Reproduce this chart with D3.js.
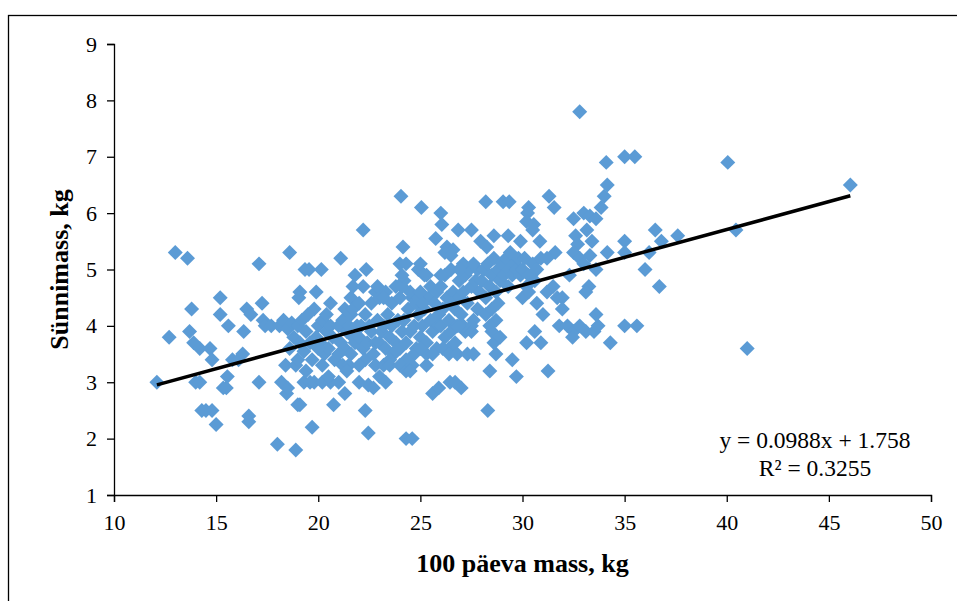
<!DOCTYPE html>
<html lang="et">
<head>
<meta charset="UTF-8">
<title>Sünnimass vs 100 päeva mass</title>
<script src="https://d3js.org/d3.v7.min.js"></script>
<style>
  body { margin: 0; background: #fff; }
  svg { font-family: "Liberation Serif", "Times New Roman", serif; }
  .tick line, .domain { stroke: #000; stroke-width: 1.3px; }
</style>
</head>
<body>
<svg></svg>
<script>
// 100 päeva mass (kg), sünnimass (kg)
const points = [
  // left sparse part
  [12.1,3.0],[12.7,3.8],[13.0,5.3],[13.6,5.2],[13.8,4.3],[13.7,3.9],[13.9,3.7],[14.0,3.0],[14.2,3.0],[14.2,3.6],
  [14.3,2.5],[14.5,2.5],[14.7,3.6],[14.8,2.5],[14.8,3.4],[15.0,2.25],[15.2,4.5],[15.2,4.2],[15.35,2.9],[15.5,2.9],
  [15.55,3.1],[15.6,4.0],[15.8,3.4],[16.1,3.4],[16.35,3.9],[16.3,3.5],[16.5,4.3],[16.7,4.2],[16.6,2.4],[16.6,2.3],
  [17.1,5.1],[17.1,3.0],[17.25,4.4],[17.3,4.1],[17.4,4.0],[17.7,4.0],[18.0,1.9],[18.2,3.0],[18.45,2.8],[18.6,5.3],
  [18.9,1.8],[19.0,2.6],[19.1,4.6],[19.05,4.5],[19.35,5.0],[19.55,5.0],[19.7,2.2],[19.9,4.6],[20.15,5.0],[19.8,4.3],
  [21.1,5.2],[22.35,5.0],[22.2,5.7],
  // x 18-19
  [18.1,4.0],[18.3,4.1],[18.5,3.95],[18.7,4.05],[18.8,3.8],[18.6,3.6],[18.4,3.3],[18.9,3.3],[18.5,2.9],
  [19.0,4.0],[19.2,4.1],[19.4,3.9],[19.1,3.7],[19.3,3.55],[19.6,3.7],[19.5,4.2],[19.0,3.4],[19.3,3.0],[19.6,3.0],
  [19.4,3.2],[19.7,3.4],
  // x 20
  [20.0,4.0],[20.2,4.1],[20.4,3.9],[20.1,3.7],[20.3,3.5],[20.5,3.6],[20.6,4.0],[20.7,3.8],[20.2,3.3],[20.4,4.2],
  [20.8,3.4],[20.0,3.6],[19.9,3.8],[20.6,4.4],
  // x 21
  [21.0,4.0],[21.2,4.1],[21.1,3.7],[21.3,3.6],[21.4,3.9],[21.5,4.0],[21.6,3.5],[21.7,3.8],[21.0,3.5],[21.2,3.3],
  [21.5,3.3],[21.8,3.7],[21.9,4.0],[21.3,4.3],[21.6,4.2],[21.6,4.5],[21.7,4.7],[21.8,4.9],[21.7,4.3],
  // x 22
  [22.0,3.8],[22.1,4.0],[22.2,3.6],[22.3,3.4],[22.4,3.7],[22.5,4.0],[22.6,3.9],[22.7,3.5],[22.8,3.7],[22.9,4.1],
  [22.3,4.2],[22.6,4.4],[22.0,3.3],[22.8,3.3],[22.2,4.7],[22.0,4.4],[22.8,4.6],[22.9,4.7],
  // x 23
  [23.0,3.7],[23.1,3.9],[23.2,4.0],[23.3,3.6],[23.4,4.2],[23.5,3.8],[23.6,4.0],[23.7,3.5],[23.8,3.7],[23.9,4.1],
  [23.0,4.5],[23.3,4.6],[23.6,4.4],[23.8,4.7],[23.2,3.3],[23.9,3.6],[23.5,3.4],[23.2,4.5],
  // x 24
  [24.0,3.6],[24.1,3.9],[24.2,4.1],[24.3,3.7],[24.4,4.3],[24.5,3.9],[24.6,4.5],[24.7,4.0],[24.8,3.6],[24.9,4.2],
  [24.0,4.5],[24.2,4.8],[24.5,4.6],[24.8,4.4],[24.3,3.4],[24.7,3.5],[24.1,4.7],[24.9,4.5],[24.1,4.9],
  // x 25
  [25.0,3.8],[25.1,4.0],[25.2,4.3],[25.3,3.7],[25.4,4.5],[25.5,4.1],[25.6,3.9],[25.7,4.4],[25.8,3.6],[25.9,4.2],
  [25.0,4.6],[25.2,4.9],[25.5,4.7],[25.8,4.6],[25.3,3.5],[25.6,3.5],[25.1,4.4],[25.9,4.0],[25.0,3.6],
  // x 26
  [26.0,4.0],[26.1,4.3],[26.2,3.8],[26.3,4.5],[26.4,4.1],[26.5,3.9],[26.6,4.6],[26.7,4.3],[26.8,4.0],[26.9,4.8],
  [26.0,4.7],[26.2,4.9],[26.4,3.6],[26.7,3.7],[26.9,4.5],[26.1,3.6],[26.5,4.4],[26.0,4.9],
  // x 27
  [27.0,4.2],[27.1,4.6],[27.2,4.9],[27.3,4.4],[27.4,5.0],[27.5,4.7],[27.6,4.1],[27.7,4.8],[27.8,5.0],[27.9,4.6],
  [27.2,3.9],[27.5,3.9],[27.8,4.3],[27.1,5.1],[27.6,5.1],
  // x 28
  [28.0,4.8],[28.1,5.0],[28.2,4.5],[28.3,5.1],[28.4,4.7],[28.5,4.9],[28.6,5.2],[28.7,4.6],[28.8,5.0],[28.9,4.8],
  [28.2,4.2],[28.5,4.3],[28.8,4.4],
  // x 29-30
  [29.0,5.1],[29.1,4.9],[29.2,5.2],[29.3,5.0],[29.4,5.3],[29.5,4.9],[29.6,5.1],[29.7,5.0],[29.8,5.2],[29.9,4.9],
  [29.3,4.7],[30.0,5.0],[30.1,5.2],[30.3,4.9],[30.5,5.1],[30.7,5.0],[30.9,5.2],[30.2,4.7],[30.6,4.8],
  // lower band
  [19.8,3.0],[20.2,3.0],[20.6,3.0],[21.0,3.0],[20.5,3.1],[20.75,2.6],[21.3,2.8],[21.4,3.2],[22.0,3.0],[22.3,2.5],
  [22.45,2.1],[22.45,2.95],[22.7,2.9],[23.0,3.1],[23.3,3.0],[23.5,3.3],[24.0,3.3],[24.3,3.2],[24.6,3.3],[24.3,2.0],
  [24.6,2.0],[19.1,2.6],[24.5,3.2],[25.3,3.3],
  // upper middle
  [24.05,6.3],[25.05,6.1],[26.0,6.0],[26.05,5.8],[26.85,5.7],[27.5,5.7],[25.75,5.55],[26.3,5.4],[26.6,5.35],[26.2,5.3],
  [26.5,5.25],[24.15,5.4],[24.0,5.1],[24.3,5.1],[24.9,5.0],[25.0,5.1],[25.3,4.9],[26.5,5.0],[26.9,5.0],[28.2,6.2],
  [29.05,6.2],[29.35,6.2],[28.6,5.6],[29.3,5.6],[27.95,5.5],[28.25,5.4],[29.9,5.5],
  // right part
  [30.3,6.1],[30.25,6.0],[30.2,5.85],[30.55,5.8],[30.5,5.7],[31.3,6.3],[31.55,6.1],[30.85,5.5],[31.6,5.3],[31.2,5.2],
  [32.5,5.9],[32.6,5.6],[32.7,5.45],[33.0,6.0],[33.3,5.95],[33.6,5.9],[33.15,5.7],[33.4,5.5],[32.5,5.3],[32.8,5.2],
  [33.0,5.1],[32.3,4.9],[32.8,7.8],[34.1,6.9],[35.0,7.0],[35.5,7.0],[34.15,6.5],[34.0,6.3],[33.85,6.1],[34.15,5.3],
  [35.0,5.5],[35.0,5.3],[36.2,5.3],[36.0,5.0],[36.5,5.7],[36.8,5.5],[37.6,5.6],[36.7,4.7],[35.0,4.0],[35.6,4.0],
  [34.3,3.7],[40.05,6.9],[40.45,5.7],[41.0,3.6],[46.05,6.5],
  // right lower
  [30.0,4.5],[30.3,4.6],[30.7,4.4],[30.6,3.9],[30.2,3.7],[30.9,3.7],[31.25,3.2],[29.7,3.1],[29.5,3.4],[31.0,4.2],
  [31.2,4.6],[31.5,4.7],[31.7,4.5],[31.8,4.0],[32.2,4.0],[32.5,3.9],[32.45,3.8],[32.8,4.0],[33.1,3.9],[33.5,3.9],
  [33.7,4.0],[33.6,4.2],[31.95,4.5],[31.95,4.3],[33.25,4.7],[33.1,4.6],[33.6,5.0],[33.3,5.25],
  // middle lower
  [25.6,2.8],[25.9,2.9],[26.45,3.0],[26.7,3.0],[27.0,2.9],[26.4,3.5],[26.8,3.5],[27.3,3.5],[27.6,3.5],[28.4,3.2],
  [28.3,2.5],[28.7,3.5],[28.6,3.7],[28.5,3.9],[28.7,4.1],[28.9,3.8],[28.4,4.0],[27.5,4.0],[27.1,4.0],[26.9,4.0]
];

const xTicks = [10, 15, 20, 25, 30, 35, 40, 45, 50];
const yTicks = [1, 2, 3, 4, 5, 6, 7, 8, 9];
const trendSlope = 0.0988;
const trendIntercept = 1.758;
const trendLabel = "y = 0.0988x + 1.758";
const r2Label = "R\u00b2 = 0.3255";

const W = 957, H = 601;
const svg = d3.select("svg").attr("width", W).attr("height", H);

// outer chart frame
svg.append("rect")
  .attr("x", 8.5).attr("y", 15.5)
  .attr("width", 1000).attr("height", 1000)
  .attr("fill", "none").attr("stroke", "#000").attr("stroke-width", 1.3);

const x = d3.scaleLinear().domain([10, 50]).range([114, 931]);
const y = d3.scaleLinear().domain([1, 9]).range([495, 44]);

const fixFont = g => g.attr("font-family", null).attr("font-size", 22)
  .selectAll(".tick text").attr("fill", "#000");

svg.append("g")
  .attr("transform", `translate(0,${y(1)})`)
  .call(d3.axisBottom(x).tickValues(xTicks).tickSize(7).tickPadding(12))
  .call(fixFont);

svg.append("g")
  .attr("transform", `translate(${x(10)},0)`)
  .call(d3.axisLeft(y).tickValues(yTicks).tickSize(7).tickPadding(10))
  .call(fixFont);

const diamond = d3.symbol().type(d3.symbolSquare).size(112);

svg.append("g")
  .selectAll("path")
  .data(points)
  .join("path")
  .attr("d", diamond)
  .attr("transform", d => `translate(${x(d[0])},${y(d[1])}) rotate(45)`)
  .attr("fill", "#5B9BD5");

const xs = d3.extent(points, d => d[0]);
svg.append("line")
  .attr("x1", x(xs[0])).attr("y1", y(trendSlope * xs[0] + trendIntercept))
  .attr("x2", x(xs[1])).attr("y2", y(trendSlope * xs[1] + trendIntercept))
  .attr("stroke", "#000").attr("stroke-width", 3.5);

svg.append("text")
  .attr("x", 815).attr("y", 448)
  .attr("text-anchor", "middle")
  .style("font-size", "23.5px")
  .text(trendLabel);

svg.append("text")
  .attr("x", 815).attr("y", 476)
  .attr("text-anchor", "middle")
  .style("font-size", "23.5px")
  .text(r2Label);

svg.append("text")
  .attr("x", (x(10) + x(50)) / 2 + 0).attr("y", 572)
  .attr("text-anchor", "middle")
  .style("font-size", "26px").style("font-weight", "bold")
  .text("100 päeva mass, kg");

svg.append("text")
  .attr("transform", `translate(68,${(y(1) + y(9)) / 2}) rotate(-90)`)
  .attr("text-anchor", "middle")
  .style("font-size", "26px").style("font-weight", "bold")
  .text("Sünnimass, kg");
</script>
</body>
</html>
